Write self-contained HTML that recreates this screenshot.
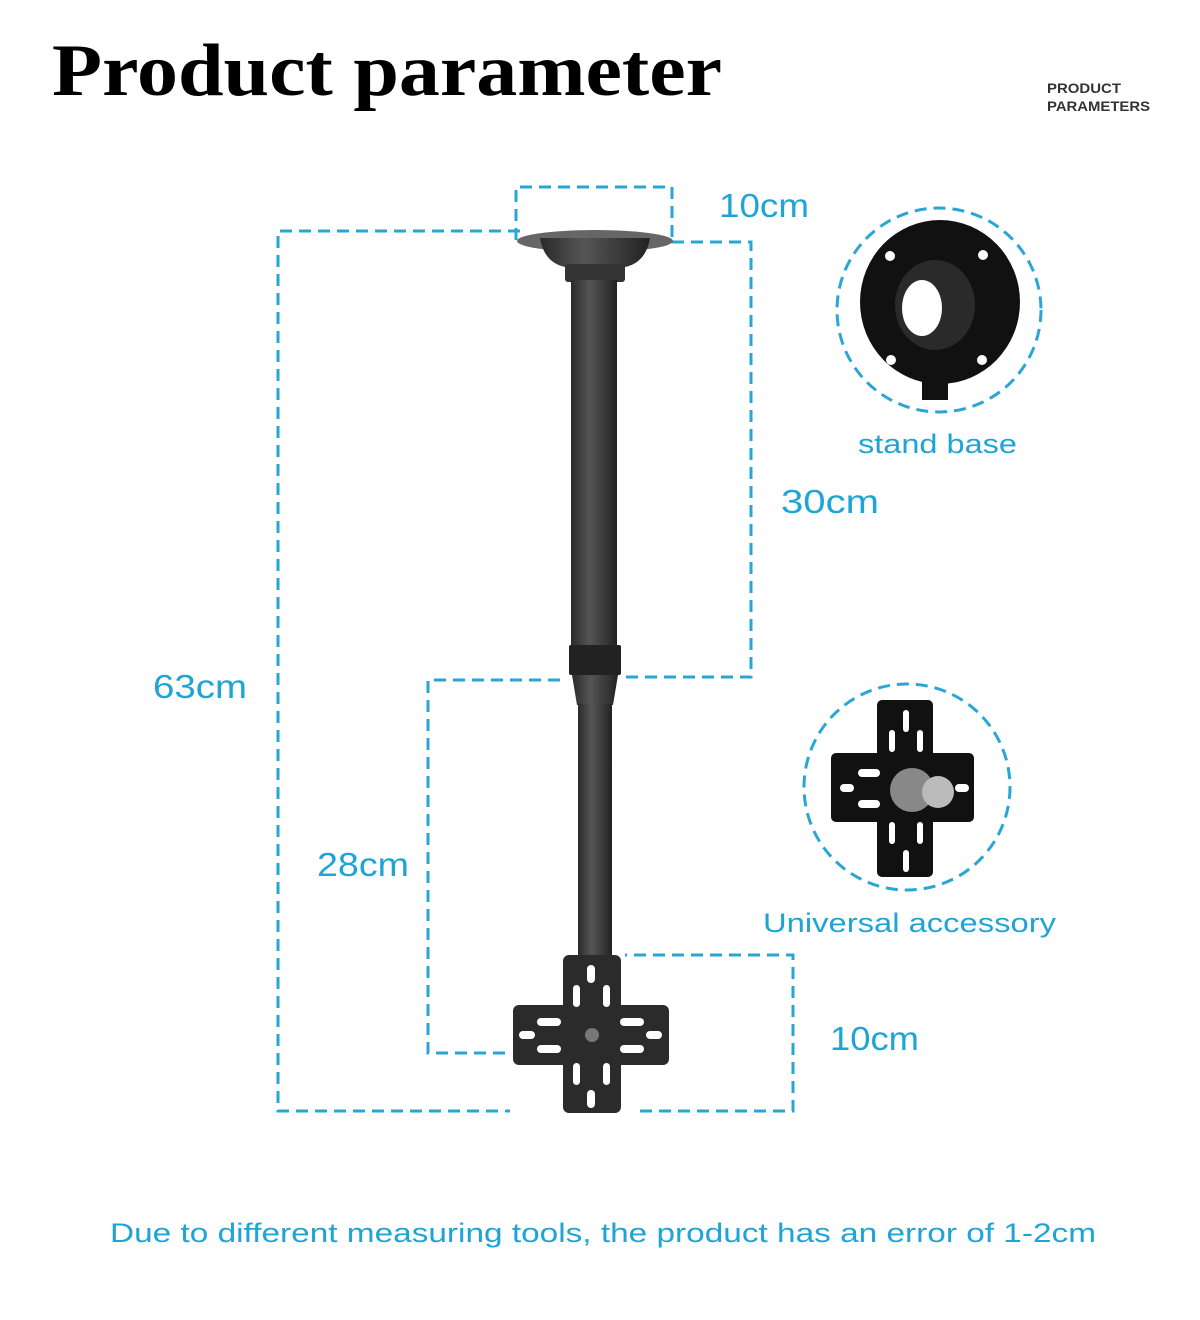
<!DOCTYPE html>
<html><head><meta charset="utf-8"><style>
html,body{margin:0;padding:0;background:#fff;}
svg{display:block}
</style></head><body>
<svg width="1200" height="1320" viewBox="0 0 1200 1320" xmlns="http://www.w3.org/2000/svg">
<rect width="1200" height="1320" fill="#fff"/>
<text x="52" y="95" font-family="Liberation Serif, serif" font-weight="bold" font-size="74" fill="#000" textLength="670" lengthAdjust="spacingAndGlyphs">Product parameter</text>
<text x="1047" y="93" font-family="Liberation Sans, sans-serif" font-weight="bold" font-size="14" fill="#333" textLength="74" lengthAdjust="spacingAndGlyphs">PRODUCT</text>
<text x="1047" y="111" font-family="Liberation Sans, sans-serif" font-weight="bold" font-size="14" fill="#333" textLength="103" lengthAdjust="spacingAndGlyphs">PARAMETERS</text>

<g fill="none" stroke="#29a6d6" stroke-width="3" stroke-dasharray="12 7">
<path d="M516 240 V187 H672 V240"/>
<path d="M520 231 H278 V1111 H510"/>
<path d="M640 1111 H793 V955 H625"/>
<path d="M672 242 H751 V677 H620"/>
<path d="M560 680 H428 V1053 H510"/>
<circle cx="939" cy="310" r="102"/>
<circle cx="907" cy="787" r="103"/>
</g>

<defs>
<linearGradient id="g" x1="0" x2="1" y1="0" y2="0">
<stop offset="0" stop-color="#2a2a2a"/><stop offset="0.4" stop-color="#555"/><stop offset="1" stop-color="#222"/>
</linearGradient>
</defs>
<ellipse cx="595" cy="241" rx="78" ry="11" fill="#666"/>
<path d="M540 238 Q545 268 575 268 H615 Q645 268 650 238 Z" fill="url(#g)"/>
<rect x="565" y="264" width="60" height="18" rx="3" fill="#333"/>
<rect x="571" y="280" width="46" height="366" fill="url(#g)"/>
<rect x="569" y="645" width="52" height="30" rx="2" fill="#222"/>
<path d="M572 675 H618 L613 705 H577 Z" fill="url(#g)"/>
<rect x="578" y="704" width="34" height="256" fill="url(#g)"/>
<g fill="#2b2b2b">
<rect x="563" y="955" width="58" height="158" rx="6"/>
<rect x="513" y="1005" width="156" height="60" rx="6"/>
</g>
<g fill="#fff">
<rect x="587" y="965" width="8" height="18" rx="4"/>
<rect x="573" y="985" width="7" height="22" rx="3.5"/>
<rect x="603" y="985" width="7" height="22" rx="3.5"/>
<rect x="537" y="1018" width="24" height="8" rx="4"/>
<rect x="620" y="1018" width="24" height="8" rx="4"/>
<rect x="519" y="1031" width="16" height="8" rx="4"/>
<rect x="646" y="1031" width="16" height="8" rx="4"/>
<rect x="537" y="1045" width="24" height="8" rx="4"/>
<rect x="620" y="1045" width="24" height="8" rx="4"/>
<rect x="573" y="1063" width="7" height="22" rx="3.5"/>
<rect x="603" y="1063" width="7" height="22" rx="3.5"/>
<rect x="587" y="1090" width="8" height="18" rx="4"/>
</g>
<circle cx="592" cy="1035" r="7" fill="#777"/>

<ellipse cx="940" cy="302" rx="80" ry="82" fill="#111"/>
<rect x="922" y="360" width="26" height="40" fill="#111"/>
<ellipse cx="935" cy="305" rx="40" ry="45" fill="#2a2a2a"/>
<ellipse cx="922" cy="308" rx="20" ry="28" fill="#fff"/>
<g fill="#fff"><circle cx="890" cy="256" r="5"/><circle cx="983" cy="255" r="5"/><circle cx="891" cy="360" r="5"/><circle cx="982" cy="360" r="5"/></g>

<g fill="#111">
<rect x="877" y="700" width="56" height="177" rx="5"/>
<rect x="831" y="753" width="143" height="69" rx="5"/>
</g>
<g fill="#fff">
<rect x="903" y="710" width="6" height="22" rx="3"/>
<rect x="889" y="730" width="6" height="22" rx="3"/>
<rect x="917" y="730" width="6" height="22" rx="3"/>
<rect x="858" y="769" width="22" height="8" rx="4"/>
<rect x="840" y="784" width="14" height="8" rx="4"/>
<rect x="858" y="800" width="22" height="8" rx="4"/>
<rect x="955" y="784" width="14" height="8" rx="4"/>
<rect x="889" y="822" width="6" height="22" rx="3"/>
<rect x="917" y="822" width="6" height="22" rx="3"/>
<rect x="903" y="850" width="6" height="22" rx="3"/>
</g>
<circle cx="912" cy="790" r="22" fill="#888"/>
<circle cx="938" cy="792" r="16" fill="#bbb"/>

<g font-family="Liberation Sans, sans-serif" fill="#1ea4d6" lengthAdjust="spacingAndGlyphs">
<text x="719" y="217" font-size="33" textLength="90" lengthAdjust="spacingAndGlyphs">10cm</text>
<text x="858" y="453" font-size="27" textLength="159" lengthAdjust="spacingAndGlyphs">stand base</text>
<text x="781" y="513" font-size="33" textLength="98" lengthAdjust="spacingAndGlyphs">30cm</text>
<text x="153" y="698" font-size="33" textLength="94" lengthAdjust="spacingAndGlyphs">63cm</text>
<text x="317" y="876" font-size="33" textLength="92" lengthAdjust="spacingAndGlyphs">28cm</text>
<text x="763" y="932" font-size="27" textLength="293" lengthAdjust="spacingAndGlyphs">Universal accessory</text>
<text x="830" y="1050" font-size="33" textLength="89" lengthAdjust="spacingAndGlyphs">10cm</text>
<text x="110" y="1242" font-size="27" textLength="986" lengthAdjust="spacingAndGlyphs">Due to different measuring tools, the product has an error of 1-2cm</text>
</g>
</svg>
</body></html>
